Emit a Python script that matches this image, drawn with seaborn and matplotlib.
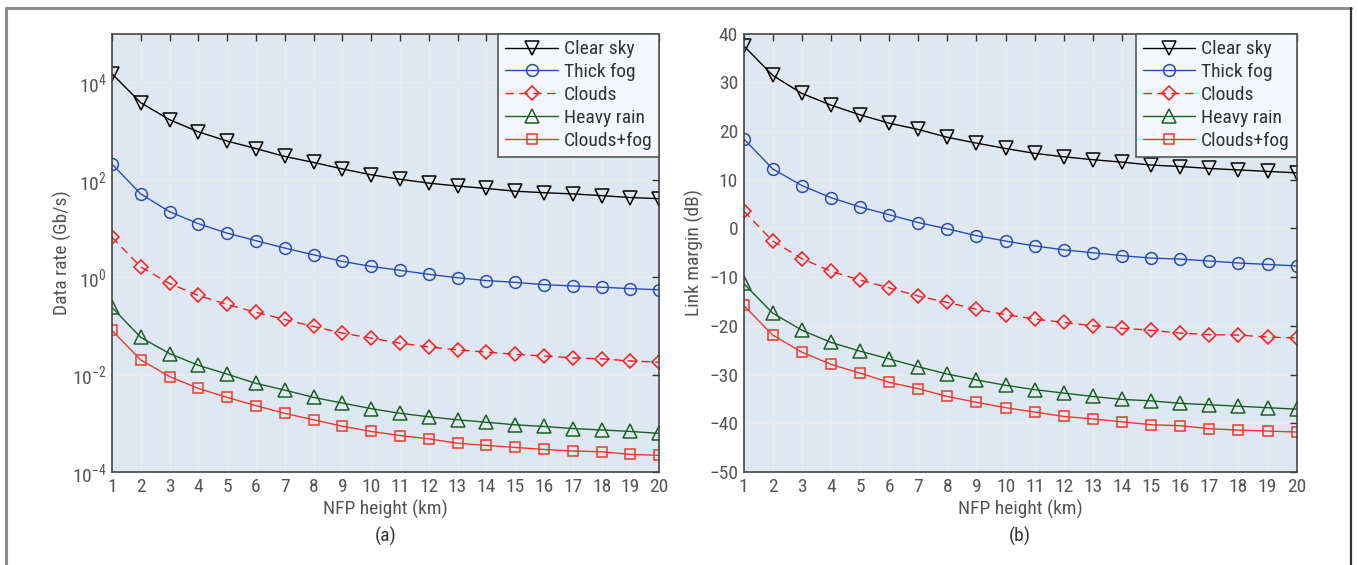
import numpy as np
import pandas as pd
import seaborn as sns
import matplotlib.pyplot as plt
from matplotlib.lines import Line2D
from matplotlib.ticker import LogFormatterMathtext, NullLocator

heights = list(range(1, 21))

rate_clear = [15000, 3800, 1700, 960, 620, 435, 300, 226, 166, 126, 102, 85, 74, 66, 58, 54, 51, 47, 43, 40.7]
rate_fog = [210, 51, 22, 12.5, 8.0, 5.6, 3.95, 2.87, 2.1, 1.66, 1.38, 1.14, 0.97, 0.85, 0.78, 0.70, 0.66, 0.62, 0.58, 0.55]
rate_clouds = [6.6, 1.62, 0.74, 0.42, 0.275, 0.19, 0.135, 0.097, 0.071, 0.056, 0.044, 0.037, 0.032, 0.029, 0.026, 0.024, 0.022, 0.021, 0.019, 0.018]
rate_rain = [0.24, 0.058, 0.027, 0.0155, 0.0102, 0.0066, 0.0048, 0.0034, 0.0026, 0.0020, 0.0016, 0.00136, 0.00118, 0.00105, 0.00093, 0.00086, 0.00078, 0.00073, 0.00068, 0.00062]
rate_cf = [0.081, 0.020, 0.0091, 0.0052, 0.0034, 0.0023, 0.0016, 0.00118, 0.00087, 0.00068, 0.00056, 0.00048, 0.00039, 0.00035, 0.00032, 0.00029, 0.00027, 0.00026, 0.00023, 0.00022]

lm_clear = [37.5, 31.4, 27.7, 25.3, 23.3, 21.6, 20.3, 18.7, 17.5, 16.4, 15.4, 14.7, 14.1, 13.6, 13.0, 12.7, 12.3, 12.0, 11.7, 11.4]
lm_fog = [18.4, 12.2, 8.8, 6.3, 4.4, 2.8, 1.2, -0.1, -1.5, -2.6, -3.6, -4.4, -5.0, -5.6, -6.1, -6.3, -6.7, -7.1, -7.4, -7.7]
lm_clouds = [3.6, -2.6, -6.2, -8.8, -10.6, -12.2, -13.9, -15.2, -16.6, -17.7, -18.6, -19.3, -20.0, -20.5, -20.9, -21.5, -21.8, -21.9, -22.3, -22.5]
lm_rain = [-11.3, -17.4, -20.9, -23.4, -25.2, -26.8, -28.4, -29.9, -31.1, -32.2, -33.1, -33.8, -34.5, -35.1, -35.4, -35.9, -36.2, -36.5, -36.8, -37.1]
lm_cf = [-15.8, -21.9, -25.4, -27.9, -29.7, -31.6, -32.9, -34.5, -35.7, -36.8, -37.7, -38.6, -39.1, -39.7, -40.3, -40.5, -41.1, -41.4, -41.6, -41.8]

rate_ticks = [1e-4, 1e-2, 1e0, 1e2, 1e4]
lm_ticks = [-50, -40, -30, -20, -10, 0, 10, 20, 30, 40]

names = ["Clear sky", "Thick fog", "Clouds", "Heavy rain", "Clouds+fog"]
colors = ["#000000", "#2b4db3", "#ff1a1a", "#1d5e24", "#f0392c"]
markers = ["v", "o", "D", "^", "s"]
msizes = [10, 8.5, 7, 10, 7.5]
styles = ["-", "-", (0, (6, 4)), "-", "-"]

sns.set_theme(style="white")
FONT = ['Roboto Condensed', 'Liberation Sans Narrow', 'Roboto', 'DejaVu Sans']
plt.rcParams['font.family'] = FONT
plt.rcParams['mathtext.fontset'] = 'custom'
plt.rcParams['mathtext.rm'] = 'Roboto Condensed'
plt.rcParams['mathtext.it'] = 'Roboto Condensed'
plt.rcParams['mathtext.default'] = 'regular'

fig = plt.figure(figsize=(13.58, 5.65), dpi=100)
ax1 = fig.add_axes([0.0824, 0.1646, 0.4030, 0.7761])
ax2 = fig.add_axes([0.5476, 0.1646, 0.4072, 0.7761])

bg = "#dee8f3"
tick_color = "#555555"

def make_long(series_list):
    frames = []
    for n, vals in zip(names, series_list):
        frames.append(pd.DataFrame({"h": heights, "v": vals, "cond": n}))
    return pd.concat(frames, ignore_index=True)

for ax, series, ylabel, sub, lp in [
    (ax1, [rate_clear, rate_fog, rate_clouds, rate_rain, rate_cf], "Data rate (Gb/s)", "(a)", 0),
    (ax2, [lm_clear, lm_fog, lm_clouds, lm_rain, lm_cf], "Link margin (dB)", "(b)", 4),
]:
    df = make_long(series)
    ax.set_facecolor(bg)
    for i, n in enumerate(names):
        sub_df = df[df.cond == n]
        sns.lineplot(data=sub_df, x="h", y="v", ax=ax, color=colors[i], linestyle=styles[i],
                     marker=markers[i], markersize=msizes[i],
                     markerfacecolor="none", markeredgecolor=colors[i], markeredgewidth=1.1,
                     linewidth=1.0, label=n, legend=False)
    ax.set_xlim(1, 20)
    ax.set_xticks(heights)
    ax.grid(True, color="#ebebeb", linewidth=1.0)
    ax.set_axisbelow(True)
    ax.tick_params(direction="in", top=True, right=True, length=5, width=1.0,
                   colors="#333333", labelcolor=tick_color, labelsize=14, pad=4)
    for s in ax.spines.values():
        s.set_color("#444444")
        s.set_linewidth(1.2)
    ax.set_xlabel("NFP height (km)", fontsize=14, color=tick_color, labelpad=3)
    ax.set_ylabel(ylabel, fontsize=14, color=tick_color, labelpad=lp)
    ax.text(0.5, -0.146, sub, transform=ax.transAxes, ha="center", va="center",
            fontsize=14, color="#333333")

ax1.set_yscale("log")
ax1.set_ylim(1e-4, 1e5)
ax1.set_yticks(rate_ticks)
ax1.yaxis.set_major_formatter(LogFormatterMathtext())
ax1.yaxis.set_minor_locator(NullLocator())

ax2.set_ylim(-50, 40)
ax2.set_yticks(lm_ticks)
ax2.set_yticklabels([f"{v}".replace("-", "\u2212") for v in lm_ticks])

handles = [Line2D([0], [0], color=colors[i], linestyle=styles[i], marker=markers[i],
                  markersize=msizes[i], markerfacecolor="none",
                  markeredgecolor=colors[i], markeredgewidth=1.1, linewidth=1.0)
           for i in range(5)]
for ax in (ax1, ax2):
    leg = ax.legend(handles, names, loc="upper right", borderaxespad=0, fontsize=14,
                    frameon=True, fancybox=False, handlelength=2.7, handletextpad=0.3,
                    labelspacing=0.25, borderpad=0.35, labelcolor="#333333")
    leg.get_frame().set_facecolor("#f4f7fb")
    leg.get_frame().set_edgecolor("#555555")
    leg.get_frame().set_linewidth(1.2)
    leg.get_frame().set_alpha(1.0)

# outer frame
fig.add_artist(Line2D([0.0045, 0.9945], [1 - 7.5 / 565, 1 - 7.5 / 565], color="#8c8c8c", lw=2.2, transform=fig.transFigure))
fig.add_artist(Line2D([0.0045, 0.0045], [0, 1 - 7.5 / 565], color="#8c8c8c", lw=2.2, transform=fig.transFigure))
fig.add_artist(Line2D([0.9945, 0.9945], [0, 1 - 7.5 / 565], color="#333333", lw=1.6, transform=fig.transFigure))

fig.savefig("out.png", dpi=100)
